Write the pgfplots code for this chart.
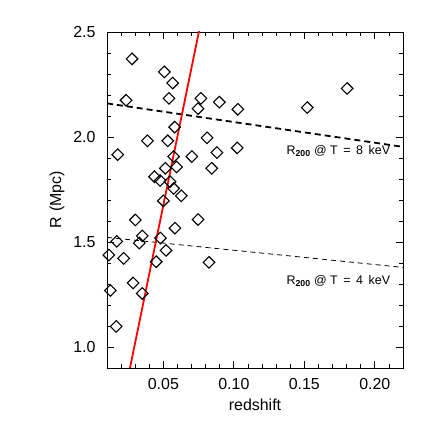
\documentclass[border=0pt]{standalone}
\usepackage{fontspec}
\setmainfont{Liberation Sans}
\usepackage{pgfplots}
\pgfplotsset{compat=1.18}
\begin{document}
\begin{tikzpicture}
% keep the reference's white margins
\path[use as bounding box] (-107bp,-68bp) rectangle (329bp,368bp);
\begin{axis}[
  at={(0,0)}, anchor=south west,
  scale only axis,
  width=296bp, height=336bp,
  xmin=0.01, xmax=0.22, ymin=0.9, ymax=2.5,
  xtick={0.05,0.10,0.15,0.20},
  xticklabels={0.05,0.10,0.15,0.20},
  ytick={1.0,1.5,2.0,2.5},
  yticklabels={1.0,1.5,2.0,2.5},
  minor xtick={0.01,0.02,...,0.22},
  minor ytick={0.9,1.0,...,2.5},
  tick align=inside, tick pos=both,
  major tick length=7bp, minor tick length=4bp,
  every tick/.style={black, line width=0.8pt},
  axis line style={line width=0.9pt},
  font=\fontsize{16}{19}\selectfont,
  /pgf/number format/assume math mode=true,
  xticklabel style={yshift=-7bp},
  yticklabel style={xshift=-8bp},
  xlabel={redshift}, ylabel={R\,\,(Mpc)},
  xlabel style={yshift=-2bp},
  ylabel style={yshift=2bp},
  clip=true,
]
% R200 at T = 8 keV
\addplot[black, line width=1.8pt, dash pattern=on 6bp off 4bp] coordinates {(0.01,2.160) (0.22,1.953)};
% R200 at T = 4 keV
\addplot[black, line width=0.8pt, dash pattern=on 5bp off 4bp] coordinates {(0.01,1.522) (0.22,1.379)};
% fit
\addplot[red, line width=1.8pt] coordinates {(0.0263,0.9) (0.0754,2.508)};
% clusters
\addplot[only marks, mark=square, mark size=4.1bp, mark options={rotate=45, black, line width=1.1pt, fill=none}] coordinates {
(0.0278,2.372) (0.0507,2.310) (0.0566,2.257) (0.0235,2.175) (0.0540,2.184)
(0.0766,2.184) (0.0897,2.166) (0.0746,2.135) (0.1028,2.132) (0.0580,2.047)
(0.0387,1.982) (0.0531,1.982) (0.0810,1.996) (0.0176,1.916) (0.0573,1.907)
(0.0702,1.907) (0.0880,1.926) (0.1024,1.948) (0.0514,1.851) (0.0594,1.857)
(0.0843,1.851) (0.0437,1.811) (0.0477,1.793) (0.0547,1.787) (0.0573,1.755)
(0.0627,1.720) (0.0500,1.696) (0.1804,2.231) (0.1521,2.140) (0.0301,1.605)
(0.0746,1.607) (0.0350,1.529) (0.0582,1.566) (0.0169,1.503) (0.0329,1.495)
(0.0479,1.519) (0.0113,1.438) (0.0218,1.422) (0.0519,1.460) (0.0449,1.406)
(0.0824,1.403) (0.0285,1.305) (0.0124,1.269) (0.0350,1.255) (0.0165,1.098)
};
\node[anchor=east, inner sep=0pt, font=\fontsize{12.5}{14}\selectfont] at (axis cs:0.211,1.932) {R\textsubscript{\textbf{200}} @ T \,=\, 8 \,keV};
\node[anchor=east, inner sep=0pt, font=\fontsize{12.5}{14}\selectfont] at (axis cs:0.211,1.315) {R\textsubscript{\textbf{200}} @ T \,=\, 4 \,keV};
\end{axis}
\end{tikzpicture}
\end{document}
